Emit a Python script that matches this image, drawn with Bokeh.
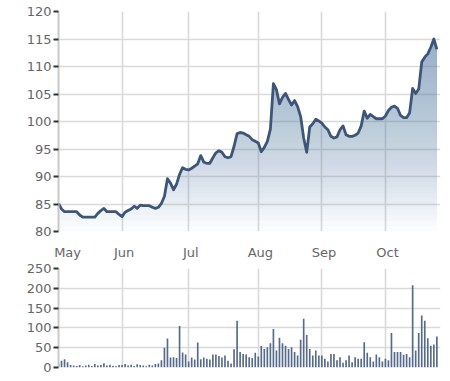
import numpy as np
from bokeh.plotting import figure
from bokeh.layouts import column
from bokeh.models import FixedTicker, Range1d
from bokeh.embed import file_html
from bokeh.resources import INLINE

# ---- data ----
months = ["May", "Jun", "Jul", "Aug", "Sep", "Oct"]
month_start = [0, 21, 43, 66, 87, 108]          # trading-day index of first session of each month
price_ticks = [80, 85, 90, 95, 100, 105, 110, 115, 120]
volume_ticks = [0, 50, 100, 150, 200, 250]

price = [
    85.1, 84.1, 83.6, 83.6, 83.6, 83.6, 83.6, 83.0, 82.6, 82.6, 82.6, 82.6, 82.6, 83.3, 83.8, 84.2,
    83.6, 83.6, 83.6, 83.6, 83.1,
    82.7, 83.5, 83.8, 84.1, 84.6, 84.2, 84.8, 84.7, 84.7, 84.7, 84.4, 84.2, 84.4, 85.1, 86.4, 89.6,
    88.8, 87.6, 88.6, 90.4, 91.6, 91.3,
    91.2, 91.5, 91.9, 92.3, 93.8, 92.6, 92.4, 92.4, 93.4, 94.3, 94.7, 94.4, 93.6, 93.4, 93.6, 95.5,
    97.8, 98.0, 97.9, 97.6, 97.3, 96.7, 96.4,
    96.1, 94.5, 95.3, 96.4, 98.6, 106.9, 105.8, 103.2, 104.4, 105.1, 104.0, 103.0, 103.8, 102.7,
    100.9, 97.0, 94.4,
    99.0, 99.6, 100.4, 100.1, 99.7, 99.0, 98.5, 97.3, 97.0, 97.2, 98.5, 99.2, 97.6, 97.3, 97.3, 97.5,
    97.9, 99.2, 101.9, 100.6, 101.3, 100.9, 100.5, 100.5, 100.5,
    101.0, 102.0, 102.6, 102.8, 102.4, 101.1, 100.7, 100.7, 101.6, 106.0, 105.1, 105.9, 110.8, 111.7,
    112.3, 113.5, 115.0, 113.1,
]

volume = [
    10, 17, 21, 13, 6, 5, 4, 6, 3, 5, 7, 4, 9, 5, 6, 11, 5, 7, 4, 3, 6,
    6, 9, 5, 7, 4, 8, 6, 5, 3, 7, 5, 9, 10, 18,
    50, 73, 25, 26, 24, 105, 38, 33,
    15, 25, 20, 63, 21, 25, 22, 20, 33, 33, 29, 25, 30, 17, 10, 46, 118, 39, 34,
    33, 26, 24, 37, 28,
    54, 47, 51, 61, 97, 43, 75, 61, 55, 47, 51, 39, 30, 70, 123, 82, 47, 30, 43, 30,
    30, 22, 15, 34, 34, 18, 26, 12, 18, 30, 13, 26, 22, 22, 64, 37, 26, 15, 33, 26,
    15, 22, 18, 87, 39, 39, 39, 32, 34, 26, 208, 43, 87, 131, 118, 74, 55, 58, 78,
]

n = len(price)
idx = np.arange(n)
price_arr = np.array(price, dtype=float)

FONT = "DejaVu Sans"
LABEL_COLOR = "#666666"
GRID_COLOR = "#d9d9d9"

x_end = n + 0.2


def base_style(p):
    p.outline_line_color = None
    p.background_fill_color = "white"
    p.border_fill_color = "white"
    p.xgrid[0].ticker = FixedTicker(ticks=month_start[1:])
    p.xgrid[0].grid_line_color = GRID_COLOR
    p.xgrid[0].grid_line_width = 1.6
    p.ygrid[0].grid_line_color = GRID_COLOR
    p.ygrid[0].grid_line_width = 1.6


def style_y(p, ticks):
    ax = p.yaxis[0]
    ax.ticker = FixedTicker(ticks=ticks)
    ax.axis_line_color = "#c8c8c8"
    ax.axis_line_width = 2
    ax.major_tick_line_color = "#333333"
    ax.major_tick_line_width = 2
    ax.major_tick_out = 5
    ax.major_tick_in = 0
    ax.minor_tick_line_color = None
    ax.major_label_text_font = FONT
    ax.major_label_text_font_size = "13px"
    ax.major_label_text_color = LABEL_COLOR
    ax.major_label_standoff = 2


# ---- price chart ----
p1 = figure(width=450, height=262, output_backend="svg", toolbar_location=None,
            x_range=Range1d(0, x_end), y_range=Range1d(80, 120),
            min_border_left=58, min_border_right=10, min_border_top=11, min_border_bottom=31)
base_style(p1)
p1.ygrid[0].ticker = FixedTicker(ticks=price_ticks)

# gradient-like area fill: stacked translucent layers
levels = np.linspace(80, 120, 41)[:-1]
for L in levels:
    p1.varea(x=idx, y1=np.full(n, L), y2=np.maximum(price_arr, L),
             fill_color="#7f8fab", fill_alpha=0.027)

p1.line(idx, price_arr, line_color="#3d5677", line_width=2.8, line_join="round")

style_y(p1, price_ticks)
xa = p1.xaxis[0]
label_pos = [m + 0.7 for m in month_start]
label_pos[0] = 3.0
xa.ticker = FixedTicker(ticks=label_pos)
xa.major_label_overrides = {pos: name for pos, name in zip(label_pos, months)}
xa.axis_line_color = None
xa.major_tick_line_color = None
xa.minor_tick_line_color = None
xa.major_tick_out = 0
xa.major_tick_in = 0
xa.major_label_standoff = 13
xa.major_label_text_font = FONT
xa.major_label_text_font_size = "13px"
xa.major_label_text_color = LABEL_COLOR

# ---- volume chart ----
p2 = figure(width=450, height=119, output_backend="svg", toolbar_location=None,
            x_range=p1.x_range, y_range=Range1d(0, 250),
            min_border_left=58, min_border_right=10, min_border_top=6, min_border_bottom=14)
base_style(p2)
p2.ygrid[0].ticker = FixedTicker(ticks=volume_ticks)
p2.vbar(x=idx, top=volume, width=0.55, fill_color="#566a89", line_color=None)
style_y(p2, volume_ticks)
p2.xaxis[0].visible = False

layout = column(p1, p2, spacing=0)
open("out.html", "w").write(file_html(layout, INLINE))
